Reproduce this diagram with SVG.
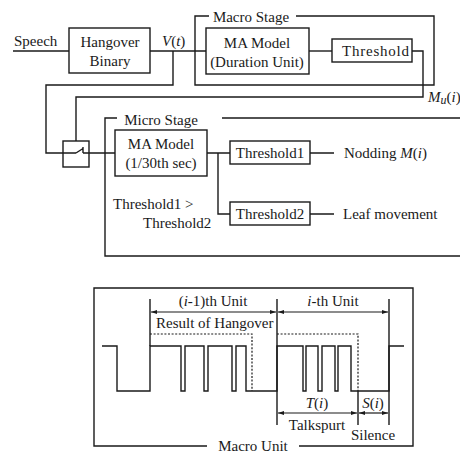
<svg xmlns="http://www.w3.org/2000/svg" width="460" height="453" viewBox="0 0 460 453">
<defs>
<style>
text{font-family:"Liberation Serif","Times New Roman",serif;font-size:15px;fill:#1a1a1a}
.m{text-anchor:middle}
.i{font-style:italic}
.box{fill:#fff;stroke:#1a1a1a;stroke-width:1.4}
.ln{fill:none;stroke:#1a1a1a;stroke-width:1.4}
.dot{fill:none;stroke:#1a1a1a;stroke-width:1.2;stroke-dasharray:2 1.6}
.arr{fill:none;stroke:#1a1a1a;stroke-width:1.2;marker-start:url(#ah);marker-end:url(#ah)}
</style>
<marker id="ah" viewBox="0 0 10 10" refX="10" refY="5" markerWidth="6" markerHeight="6" orient="auto-start-reverse" markerUnits="userSpaceOnUse">
<path d="M0,1.5 L10,5 L0,8.5 Z" fill="#1a1a1a"/>
</marker>
</defs>
<rect width="460" height="453" fill="#fff"/>

<g id="connectors">
<path class="ln" d="M13,51 H69"/>
<path class="ln" d="M150,51 H206"/>
<path class="ln" d="M173,51 V85 H46 V153 H76"/>
<path class="ln" d="M309,51 H332"/>
<path class="ln" d="M412,51 H423 V97 H76 V141"/>
<path class="ln" d="M76,153 L83,148.5 M83,147 V153 M83,153 H115"/>
<path class="ln" d="M207,153 H230 M218,153 V214 H230"/>
<path class="ln" d="M310,153 H334 M310,214 H334"/>
</g>

<g id="macro-stage">
<path class="ln" d="M209,16 H195 V85 H434 V16 H296"/>
<text class="m" x="251" y="22">Macro Stage</text>
</g>
<g id="micro-stage">
<path class="ln" d="M117,118 H105 V256 H460 M222,118 H460"/>
<text class="m" x="161" y="125">Micro Stage</text>
</g>

<g id="speech"><text x="14" y="46">Speech</text></g>
<g id="hangover">
<rect class="box" x="69" y="28" width="81" height="45"/>
<text class="m" x="110" y="47">Hangover</text>
<text class="m" x="110" y="66">Binary</text>
</g>
<g id="vt"><text x="162" y="46"><tspan class="i">V</tspan>(<tspan class="i">t</tspan>)</text></g>
<g id="ma-duration">
<rect class="box" x="206" y="28" width="103" height="46"/>
<text class="m" x="257" y="48">MA Model</text>
<text class="m" x="257" y="67">(Duration Unit)</text>
</g>
<g id="threshold">
<rect class="box" x="332" y="39" width="80" height="23"/>
<text x="342" y="56" textLength="67" lengthAdjust="spacing">Threshold</text>
</g>
<g id="mu"><text x="428" y="102"><tspan class="i">M</tspan><tspan class="i" font-size="12" dy="2">u</tspan><tspan dy="-2">(</tspan><tspan class="i">i</tspan>)</text></g>
<g id="switch">
<rect x="63" y="141" width="26" height="26" style="fill:none;stroke:#1a1a1a;stroke-width:1.4"/>
</g>
<g id="ma-30th">
<rect class="box" x="115" y="130" width="92" height="46"/>
<text class="m" x="161" y="149">MA Model</text>
<text class="m" x="161" y="168">(1/30th sec)</text>
</g>
<g id="threshold1">
<rect class="box" x="230" y="141" width="80" height="23"/>
<text class="m" x="270" y="158">Threshold1</text>
</g>
<g id="threshold2">
<rect class="box" x="230" y="202" width="80" height="23"/>
<text class="m" x="270" y="219">Threshold2</text>
</g>
<g id="nodding"><text x="344" y="158">Nodding <tspan class="i">M</tspan>(<tspan class="i">i</tspan>)</text></g>
<g id="leaf"><text x="343" y="219">Leaf movement</text></g>
<g id="cond">
<text x="113" y="209">Threshold1 &gt;</text>
<text x="143" y="228">Threshold2</text>
</g>

<g id="macro-unit">
<path class="ln" d="M207,446 H94 V288 H413 V446 H299"/>
<text class="m" x="253" y="451">Macro Unit</text>
<path class="ln" d="M102,346 H117 V391 H150 V346 H181 V391 H185 V346 H204 V391 H208 V346 H232 V391 H236 V346 H246 V391 H277 V346 H303 V391 H306 V346 H318 V391 H322 V346 H335 V391 H338 V346 H351 V391 H389 V346 H404"/>
<path class="ln" d="M150,299 V346 M277,299 V425 M389,299 V425 M358,391 V425"/>
<path class="dot" d="M150,334 H252 V391 M277,334 H358 V391"/>
<path class="arr" d="M151,312 H276"/>
<path class="arr" d="M278,312 H388"/>
<path class="arr" d="M278,413 H357"/>
<path class="arr" d="M359,413 H388"/>
<text class="m" x="213" y="306">(<tspan class="i">i</tspan>-1)th Unit</text>
<text class="m" x="333" y="306"><tspan class="i">i</tspan>-th Unit</text>
<text x="156" y="328">Result of Hangover</text>
<text class="m" x="317" y="408"><tspan class="i">T</tspan>(<tspan class="i">i</tspan>)</text>
<text class="m" x="373" y="408"><tspan class="i">S</tspan>(<tspan class="i">i</tspan>)</text>
<text class="m" x="317" y="430">Talkspurt</text>
<text class="m" x="373" y="440">Silence</text>
</g>
</svg>
